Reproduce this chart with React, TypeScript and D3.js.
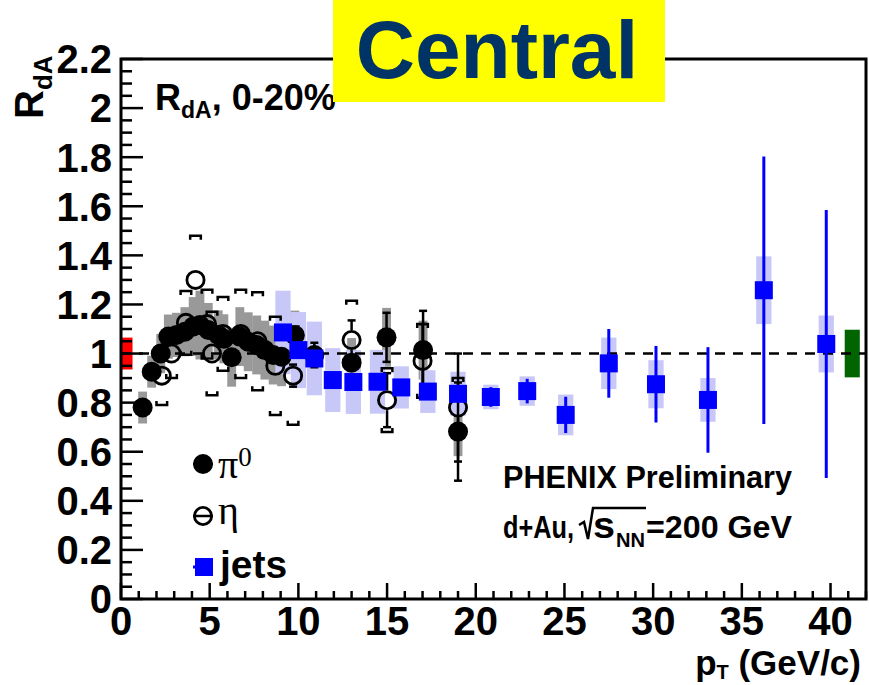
import React from "react";
import * as d3 from "d3";

// pi0 (filled circles): pT, R_dA, stat. error, syst. error (grey boxes)
const pi0Pt = [1.22, 1.73, 2.24, 2.67, 3.13, 3.6, 4.07, 4.45, 4.92, 5.48, 5.8, 6.24, 6.7, 7.17, 7.65, 8.11, 8.58, 9.05, 9.8, 10.9, 13.0, 14.97, 17.03, 19.0];
const pi0R = [0.78, 0.926, 1.0, 1.069, 1.076, 1.089, 1.11, 1.116, 1.096, 1.076, 1.06, 0.985, 1.069, 1.048, 1.035, 1.014, 0.994, 0.987, 1.075, 0.994, 0.963, 1.066, 1.014, 0.682];
const pi0Stat = [0.01, 0.01, 0.01, 0.01, 0.01, 0.01, 0.01, 0.01, 0.01, 0.01, 0.01, 0.02, 0.02, 0.02, 0.02, 0.02, 0.02, 0.03, 0.04, 0.05, 0.03, 0.1, 0.16, 0.2];
const pi0Sys = [0.065, 0.065, 0.08, 0.09, 0.09, 0.1, 0.12, 0.14, 0.11, 0.1, 0.1, 0.12, 0.12, 0.12, 0.12, 0.12, 0.12, 0.12, 0.1, 0.1, 0.1, 0.12, 0.12, 0.1];

// eta (open circles): pT, R_dA, stat. error, syst. error (brackets)
const etaPt = [2.3, 2.85, 3.66, 4.2, 4.85, 5.13, 5.75, 6.75, 7.7, 8.7, 9.7, 13.0, 15.0, 17.0, 19.0];
const etaR = [0.91, 1.0, 1.125, 1.3, 1.12, 1.0, 1.08, 1.08, 1.05, 0.95, 0.91, 1.055, 0.81, 0.97, 0.78];
const etaStat = [0.03, 0.03, 0.03, 0.04, 0.04, 0.04, 0.04, 0.04, 0.04, 0.04, 0.045, 0.08, 0.11, 0.15, 0.22];
const etaSys = [0.12, 0.1, 0.13, 0.18, 0.14, 0.17, 0.15, 0.18, 0.2, 0.2, 0.2, 0.16, 0.13, 0.15, 0.12];

// jets (blue squares): pT, R_dA, stat. error, syst. error (light boxes)
const jetPt = [9.13, 10.0, 10.9, 11.94, 13.1, 14.46, 15.8, 17.3, 19.0, 20.85, 22.9, 25.07, 27.5, 30.16, 33.09, 36.24, 39.76];
const jetR = [1.086, 1.014, 0.98, 0.892, 0.884, 0.885, 0.862, 0.845, 0.836, 0.823, 0.847, 0.75, 0.96, 0.875, 0.811, 1.258, 1.039];
const jetStat = [0.02, 0.02, 0.02, 0.02, 0.02, 0.02, 0.03, 0.03, 0.03, 0.04, 0.05, 0.074, 0.14, 0.156, 0.215, 0.545, 0.546];
const jetSys = [0.17, 0.155, 0.15, 0.13, 0.13, 0.13, 0.086, 0.087, 0.09, 0.05, 0.06, 0.083, 0.105, 0.098, 0.089, 0.138, 0.116];

// global normalisation uncertainties
const normHadron = { x0: 0, x1: 0.65, err: 0.065 };
const normJet = { x0: 40.8, x1: 41.65, err: 0.097 };

const xTickLabels = [0, 5, 10, 15, 20, 25, 30, 35, 40];
const yTickLabels = ["0", "0.2", "0.4", "0.6", "0.8", "1", "1.2", "1.4", "1.6", "1.8", "2", "2.2"];

const FONT = "'Liberation Sans', Arial, Helvetica, sans-serif";
const SERIF = "'Liberation Serif', 'Times New Roman', serif";

export default function App() {
  const x = d3.scaleLinear().domain([0, 42]).range([121, 866]);
  const y = d3.scaleLinear().domain([0, 2.2]).range([599, 59]);
  const R = 10; // marker radius
  const S = 9; // half square size
  const pi0Half = 0.25;
  const jetHalf = 0.43;
  const etaHalf = 0.3;

  const xTicks = d3.range(0, 42.001, 1);
  const yTicks = d3.range(0, 45).map((i) => i * 0.05);

  // vertical error line split around a hollow marker
  const errSegs = (v: number, e: number, r: number) => {
    const cy = y(v), top = y(v + e), bot = y(v - e);
    const out: [number, number][] = [];
    if (cy - top > r) out.push([top, cy - r]);
    if (bot - cy > r) out.push([cy + r, bot]);
    return out;
  };

  return (
    <svg width={869} height={685} style={{ display: "block", position: "absolute", left: 0, top: 0 }}>
      <rect width={869} height={685} fill="#fff" />

      {/* normalisation boxes */}
      <rect x={x(normHadron.x0)} width={x(normHadron.x1) - x(normHadron.x0)} y={y(1 + normHadron.err)} height={y(1 - normHadron.err) - y(1 + normHadron.err)} fill="#ff0000" />
      <rect x={x(normJet.x0)} width={x(normJet.x1) - x(normJet.x0)} y={y(1 + normJet.err)} height={y(1 - normJet.err) - y(1 + normJet.err)} fill="#006400" />

      {/* pi0 systematic boxes */}
      {pi0Pt.map((p, i) => (
        <rect key={"ps" + i} x={x(p - pi0Half)} width={x(p + pi0Half) - x(p - pi0Half)} y={y(pi0R[i] + pi0Sys[i])} height={y(pi0R[i] - pi0Sys[i]) - y(pi0R[i] + pi0Sys[i])} fill="#999999" />
      ))}

      {/* jet systematic boxes */}
      {jetPt.map((p, i) => (
        <rect key={"js" + i} x={x(p - jetHalf)} width={x(p + jetHalf) - x(p - jetHalf)} y={y(jetR[i] + jetSys[i])} height={y(jetR[i] - jetSys[i]) - y(jetR[i] + jetSys[i])} fill="#c8c8f8" />
      ))}

      {/* unity line */}
      <line x1={x(0)} x2={x(42)} y1={y(1)} y2={y(1)} stroke="#000" strokeWidth={2.5} strokeDasharray="10 8" />

      {/* eta systematic brackets */}
      {etaPt.map((p, i) => {
        const x0 = x(p - etaHalf), x1 = x(p + etaHalf);
        const yt = y(etaR[i] + etaSys[i]), yb = y(etaR[i] - etaSys[i]);
        return (
          <g key={"eb" + i} fill="none" stroke="#000" strokeWidth={2.5}>
            <path d={`M${x0},${yt + 4}V${yt}H${x1}V${yt + 4}`} />
            <path d={`M${x0},${yb - 4}V${yb}H${x1}V${yb - 4}`} />
          </g>
        );
      })}

      {/* pi0 stat errors and markers */}
      {pi0Pt.map((p, i) => {
        const cx = x(p), t = y(pi0R[i] + pi0Stat[i]), b = y(pi0R[i] - pi0Stat[i]);
        const big = b - t > 2 * R;
        return (
          <g key={"pm" + i}>
            {big && (
              <g stroke="#000" strokeWidth={2.5}>
                <line x1={cx} x2={cx} y1={t} y2={b} />
                <line x1={cx - 4} x2={cx + 4} y1={t} y2={t} />
                <line x1={cx - 4} x2={cx + 4} y1={b} y2={b} />
              </g>
            )}
            <circle cx={cx} cy={y(pi0R[i])} r={R} fill="#000" />
          </g>
        );
      })}

      {/* eta stat errors and markers */}
      {etaPt.map((p, i) => {
        const cx = x(p), segs = errSegs(etaR[i], etaStat[i], R);
        const t = y(etaR[i] + etaStat[i]), b = y(etaR[i] - etaStat[i]);
        return (
          <g key={"em" + i} stroke="#000" strokeWidth={2.5}>
            {segs.map((s, k) => (
              <line key={k} x1={cx} x2={cx} y1={s[0]} y2={s[1]} />
            ))}
            {segs.length > 0 && (
              <>
                <line x1={cx - 4} x2={cx + 4} y1={t} y2={t} />
                <line x1={cx - 4} x2={cx + 4} y1={b} y2={b} />
              </>
            )}
            <circle cx={cx} cy={y(etaR[i])} r={R - 1.4} fill="none" strokeWidth={2.8} />
          </g>
        );
      })}

      {/* jet stat errors and markers */}
      {jetPt.map((p, i) => (
        <g key={"jm" + i}>
          <line x1={x(p)} x2={x(p)} y1={y(jetR[i] + jetStat[i])} y2={y(jetR[i] - jetStat[i])} stroke="#0000ff" strokeWidth={3} />
          <rect x={x(p) - S} y={y(jetR[i]) - S} width={2 * S} height={2 * S} fill="#0000ff" />
        </g>
      ))}

      {/* frame */}
      <rect x={121} y={59} width={745} height={540} fill="none" stroke="#000" strokeWidth={3} />

      {/* x axis ticks and labels */}
      {xTicks.map((t) => {
        const major = Math.round(t) % 5 === 0;
        return <line key={"xt" + t} x1={x(t)} x2={x(t)} y1={599} y2={599 - (major ? 16 : 8)} stroke="#000" strokeWidth={2.5} />;
      })}
      {xTickLabels.map((t) => (
        <text key={"xl" + t} x={x(t)} y={635} textAnchor="middle" fontFamily={FONT} fontWeight="bold" fontSize={40}>{t}</text>
      ))}

      {/* y axis ticks and labels */}
      {yTicks.map((t, i) => {
        const major = i % 4 === 0;
        return <line key={"yt" + i} x1={121} x2={121 + (major ? 22 : 11)} y1={y(t)} y2={y(t)} stroke="#000" strokeWidth={2.5} />;
      })}
      {yTickLabels.map((l, i) => (
        <text key={"yl" + i} x={112} y={y(i * 0.2)} dy="0.36em" textAnchor="end" fontFamily={FONT} fontWeight="bold" fontSize={40}>{l}</text>
      ))}

      {/* axis titles */}
      <text transform="translate(43,119) rotate(-90)" fontFamily={FONT} fontWeight="bold" fontSize={40}>
        R<tspan fontSize={26} dy={9}>dA</tspan>
      </text>
      <text x={861} y={675} textAnchor="end" fontFamily={FONT} fontWeight="bold" fontSize={35}>
        p<tspan fontSize={20} dy={4}>T</tspan><tspan dy={-4}> (GeV/c)</tspan>
      </text>

      {/* in-plot labels */}
      <text x={155} y={110} fontFamily={FONT} fontWeight="bold" fontSize={36}>
        R<tspan fontSize={23} dy={8}>dA</tspan><tspan dy={-8}>, 0-20%</tspan>
      </text>
      <rect x={333} y={0} width={332} height={102} fill="#ffff00" />
      <text x={497} y={78} textAnchor="middle" fontFamily={FONT} fontWeight="bold" fontSize={82} fill="#003366">Central</text>

      <text x={503} y={488} fontFamily={FONT} fontWeight="bold" fontSize={31} textLength={289} lengthAdjust="spacingAndGlyphs">PHENIX Preliminary</text>
      <g fontFamily={FONT} fontWeight="bold">
        <text x={503} y={538} fontSize={31} textLength={71} lengthAdjust="spacingAndGlyphs">d+Au,</text>
        <path d="M579,525 L584,522 L588,539 L593,508 L646,508" fill="none" stroke="#000" strokeWidth={2.5} />
        <text x={593} y={538} fontSize={36} textLength={22} lengthAdjust="spacingAndGlyphs">s</text>
        <text x={616} y={547} fontSize={21} textLength={29} lengthAdjust="spacingAndGlyphs">NN</text>
        <text x={792} y={538} fontSize={31} textAnchor="end" textLength={146} lengthAdjust="spacingAndGlyphs">=200 GeV</text>
      </g>

      {/* legend */}
      <line x1={193} x2={213} y1={464} y2={464} stroke="#000" strokeWidth={2.5} />
      <circle cx={203} cy={464} r={R} fill="#000" />
      <text x={218} y={478} fontFamily={SERIF} fontSize={40}>π<tspan fontSize={27} dy={-12}>0</tspan></text>

      <line x1={193} x2={213} y1={516} y2={516} stroke="#000" strokeWidth={2.5} />
      <circle cx={203} cy={516} r={R - 1.4} fill="none" stroke="#000" strokeWidth={2.8} />
      <text x={218} y={524} fontFamily={SERIF} fontSize={40}>η</text>

      <line x1={193} x2={213} y1={567} y2={567} stroke="#0000ff" strokeWidth={3} />
      <rect x={195} y={558} width={18} height={18} fill="#0000ff" />
      <text x={220} y={578} fontFamily={FONT} fontWeight="bold" fontSize={39}>jets</text>
    </svg>
  );
}
